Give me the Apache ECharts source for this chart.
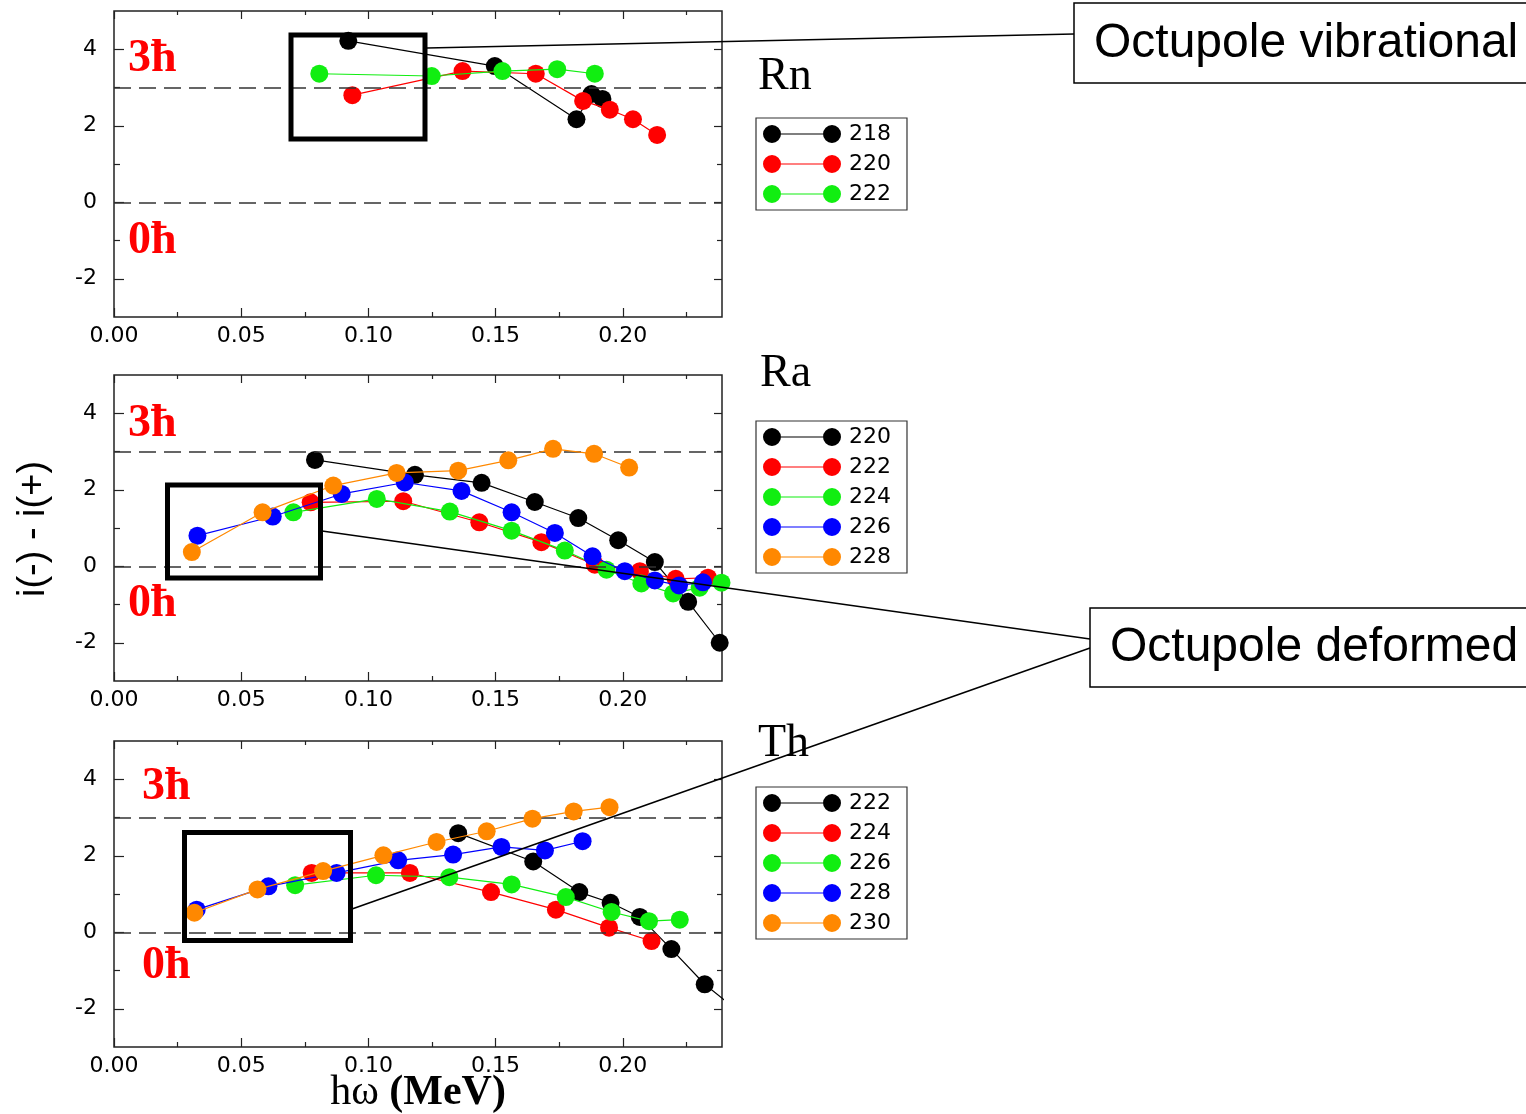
<!DOCTYPE html>
<html><head><meta charset="utf-8">
<script src="https://cdn.jsdelivr.net/npm/echarts@6/dist/echarts.min.js"></script>
<style>html,body{margin:0;padding:0;background:#fff}#c{width:1526px;height:1114px}</style>
</head><body><div id="c"></div>
<script>
// ---- axes / ticks ----
const xRange = [0, 0.239];
const yRange = [-3, 5];
const xMajorTicks = [0, 0.05, 0.10, 0.15, 0.20];
const xMinorTicks = [0.025, 0.075, 0.125, 0.175, 0.225];
const yMajorTicks = [-2, 0, 2, 4];
const yMinorTicks = [-1, 1, 3];
const refLines = [3, 0];

// ---- Rn ----
const rnNames = ['218', '220', '222'];
const rn218 = [[0.0921,4.22],[0.1497,3.56],[0.1818,2.17],[0.1877,2.83],[0.1920,2.70]];
const rn220 = [[0.0937,2.80],[0.1370,3.43],[0.1658,3.36],[0.1844,2.65],[0.1949,2.42],[0.2040,2.17],[0.2135,1.76]];
const rn222 = [[0.0807,3.36],[0.1249,3.30],[0.1527,3.43],[0.1742,3.48],[0.1890,3.36]];

// ---- Ra ----
const raNames = ['220', '222', '224', '226', '228'];
const ra220 = [[0.0790,2.78],[0.1183,2.39],[0.1445,2.18],[0.1654,1.68],[0.1825,1.26],[0.1982,0.68],[0.2126,0.11],[0.2257,-0.93],[0.2381,-2.00]];
const ra222 = [[0.0773,1.67],[0.1137,1.70],[0.1436,1.15],[0.1680,0.63],[0.1890,0.04],[0.2067,-0.13],[0.2208,-0.33],[0.2335,-0.30]];
const ra224 = [[0.0705,1.41],[0.1033,1.76],[0.1320,1.43],[0.1563,0.93],[0.1772,0.41],[0.1936,-0.09],[0.2073,-0.45],[0.2198,-0.71],[0.2302,-0.56],[0.2388,-0.43]];
const ra226 = [[0.0328,0.80],[0.0624,1.30],[0.0895,1.89],[0.1143,2.19],[0.1366,1.97],[0.1563,1.41],[0.1733,0.87],[0.1881,0.26],[0.2008,-0.13],[0.2126,-0.37],[0.2221,-0.50],[0.2315,-0.42]];
const ra228 = [[0.0306,0.37],[0.0584,1.41],[0.0862,2.11],[0.1111,2.44],[0.1353,2.50],[0.1550,2.77],[0.1726,3.07],[0.1887,2.94],[0.2025,2.58]];

// ---- Th ----
const thNames = ['222', '224', '226', '228', '230'];
const th222 = [[0.1353,2.59],[0.1648,1.85],[0.1829,1.05],[0.1952,0.77],[0.2067,0.40],[0.2191,-0.44],[0.2322,-1.36],[0.2460,-2.10]];
const th224 = [[0.0777,1.55],[0.1163,1.55],[0.1482,1.05],[0.1737,0.59],[0.1946,0.12],[0.2113,-0.23]];
const th226 = [[0.0712,1.23],[0.1030,1.49],[0.1318,1.44],[0.1563,1.25],[0.1776,0.92],[0.1956,0.53],[0.2103,0.29],[0.2224,0.33]];
const th228 = [[0.0325,0.59],[0.0607,1.20],[0.0875,1.55],[0.1117,1.88],[0.1333,2.03],[0.1523,2.23],[0.1694,2.14],[0.1842,2.38]];
const th230 = [[0.0316,0.51],[0.0564,1.12],[0.0822,1.60],[0.1059,2.01],[0.1268,2.36],[0.1465,2.64],[0.1645,2.97],[0.1807,3.16],[0.1948,3.27]];

const colors = ['#000000', '#ff0000', '#11ee11', '#0000ff', '#ff8800'];

const panels = [
  { el: 'Rn', names: rnNames, data: [rn218, rn220, rn222] },
  { el: 'Ra', names: raNames, data: [ra220, ra222, ra224, ra226, ra228] },
  { el: 'Th', names: thNames, data: [th222, th224, th226, th228, th230] }
];

const gridTops = [11, 375, 741];
const gridH = 306, gridL = 114, gridW = 608;
const legendTops = [118, 421, 787];
const axisColor = '#222';
const tickFont = { fontFamily: 'DejaVu Sans', fontSize: 22, color: '#000' };

const grids = [], xAxes = [], yAxes = [], series = [], legends = [];

panels.forEach((p, pi) => {
  grids.push({ left: gridL, top: gridTops[pi], width: gridW, height: gridH, show: true,
    borderColor: axisColor, borderWidth: 1.5, backgroundColor: 'transparent' });
  const baseX = { type: 'value', gridIndex: pi, min: xRange[0], max: xRange[1],
    axisLine: { show: false, onZero: false }, splitLine: { show: false } };
  const baseY = { type: 'value', gridIndex: pi, min: yRange[0], max: yRange[1],
    axisLine: { show: false, onZero: false }, splitLine: { show: false } };
  const tl = { color: axisColor, width: 1.2 };
  // x: bottom major (labels), bottom minor, top major, top minor
  xAxes.push(Object.assign({}, baseX, { position: 'bottom',
    axisTick: { inside: true, length: 9, customValues: xMajorTicks, lineStyle: tl },
    axisLabel: Object.assign({ customValues: xMajorTicks, margin: 8, formatter: v => v.toFixed(2) }, tickFont) }));
  xAxes.push(Object.assign({}, baseX, { position: 'bottom',
    axisTick: { inside: true, length: 5, customValues: xMinorTicks, lineStyle: tl },
    axisLabel: { show: false } }));
  xAxes.push(Object.assign({}, baseX, { position: 'top',
    axisTick: { inside: true, length: 8, customValues: xMajorTicks, lineStyle: tl },
    axisLabel: { show: false } }));
  xAxes.push(Object.assign({}, baseX, { position: 'top',
    axisTick: { inside: true, length: 4, customValues: xMinorTicks, lineStyle: tl },
    axisLabel: { show: false } }));
  // y: left major (labels), left minor, right major, right minor
  yAxes.push(Object.assign({}, baseY, { position: 'left',
    axisTick: { inside: true, length: 10, customValues: yMajorTicks, lineStyle: tl },
    axisLabel: Object.assign({ customValues: yMajorTicks, margin: 17, formatter: v => String(v) }, tickFont) }));
  yAxes.push(Object.assign({}, baseY, { position: 'left',
    axisTick: { inside: true, length: 6, customValues: yMinorTicks, lineStyle: tl },
    axisLabel: { show: false } }));
  yAxes.push(Object.assign({}, baseY, { position: 'right',
    axisTick: { inside: true, length: 8, customValues: yMajorTicks, lineStyle: tl },
    axisLabel: { show: false } }));
  yAxes.push(Object.assign({}, baseY, { position: 'right',
    axisTick: { inside: true, length: 5, customValues: yMinorTicks, lineStyle: tl },
    axisLabel: { show: false } }));

  // reference dashed lines
  series.push({ type: 'line', name: p.el + ' ref', xAxisIndex: pi * 4, yAxisIndex: pi * 4, data: [], z: 1,
    silent: true,
    markLine: { silent: true, symbol: ['none', 'none'], label: { show: false },
      lineStyle: { type: [17, 8], color: '#333', width: 1.5 },
      data: refLines.map(v => ({ yAxis: v })) } });

  const legendData = [];
  p.data.forEach((d, si) => {
    const nm = p.el + ' ' + p.names[si];
    legendData.push(nm);
    series.push({
      type: 'line', name: nm, xAxisIndex: pi * 4, yAxisIndex: pi * 4, data: d,
      symbol: 'circle', symbolSize: 18, showSymbol: true, clip: true,
      itemStyle: { color: colors[si] }, lineStyle: { color: colors[si], width: 1.2 },
      emphasis: { disabled: true }, z: 2 + si
    });
  });
  legends.push({
    data: legendData, orient: 'vertical', left: 756, top: legendTops[pi],
    icon: 'path://M0,9A9,9,0,1,1,18,9A9,9,0,1,1,0,9Z M60,9A9,9,0,1,1,78,9A9,9,0,1,1,60,9Z M18,8.4L60,8.4L60,9.6L18,9.6Z',
    itemWidth: 78, itemHeight: 18, itemGap: 8,
    padding: [5, 16, 5, 7], borderColor: '#333', borderWidth: 1.2, backgroundColor: '#fff',
    selectedMode: false,
    formatter: n => n.split(' ')[1],
    textStyle: { fontFamily: 'DejaVu Sans', fontSize: 22, color: '#000', lineHeight: 22, padding: [0, 0, 0, 3] }
  });
});

const hbarFont = 'bold 46px "Liberation Serif"';
const graphics = [];
// hbar labels
[[128, 59, '3ħ'], [128, 241, '0ħ'], [128, 424, '3ħ'], [128, 604, '0ħ'], [142, 787, '3ħ'], [142, 966, '0ħ']]
  .forEach(a => graphics.push({ type: 'text', x: a[0], y: a[1], z: 50,
    style: { text: a[2], font: hbarFont, fill: '#ff0000', align: 'left', verticalAlign: 'middle' } }));
// element titles
[[758, 77, 'Rn'], [760, 374, 'Ra'], [758, 744, 'Th']]
  .forEach(a => graphics.push({ type: 'text', x: a[0], y: a[1], z: 50,
    style: { text: a[2], font: '46px "Liberation Serif"', fill: '#000', align: 'left', verticalAlign: 'middle' } }));
// axis names
graphics.push({ type: 'text', x: 34, y: 529, rotation: Math.PI / 2, z: 50,
  style: { text: 'i(-) - i(+)', font: '38px "Liberation Sans"', fill: '#000', align: 'center', verticalAlign: 'middle' } });
graphics.push({ type: 'text', x: 418, y: 1093, z: 50,
  style: { text: '{a|hω }{b|(MeV)}', align: 'center', verticalAlign: 'middle', fill: '#000',
    rich: { a: { font: '42px "Liberation Serif"', fill: '#000' }, b: { font: 'bold 42px "Liberation Serif"', fill: '#000' } } } });
// highlight rectangles
[[291, 35, 134, 104], [167.5, 485, 153, 93], [184.5, 832.5, 166, 108]]
  .forEach(r => graphics.push({ type: 'rect', z: 100, shape: { x: r[0], y: r[1], width: r[2], height: r[3] },
    style: { fill: 'none', stroke: '#000', lineWidth: 5 } }));
// connector lines
[[427, 48, 1074, 34], [322, 531, 1090, 639], [352, 909, 1090, 648]]
  .forEach(l => graphics.push({ type: 'line', z: 100, shape: { x1: l[0], y1: l[1], x2: l[2], y2: l[3] },
    style: { stroke: '#000', lineWidth: 1.6 } }));
// callout boxes
graphics.push({ type: 'rect', z: 100, shape: { x: 1074, y: 3, width: 470, height: 80 },
  style: { fill: '#fff', stroke: '#000', lineWidth: 1.5 } });
graphics.push({ type: 'text', z: 101, x: 1094, y: 44,
  style: { text: 'Octupole vibrational', font: '48px "Liberation Sans"', fill: '#000', align: 'left', verticalAlign: 'middle' } });
graphics.push({ type: 'rect', z: 100, shape: { x: 1090, y: 608, width: 470, height: 79 },
  style: { fill: '#fff', stroke: '#000', lineWidth: 1.5 } });
graphics.push({ type: 'text', z: 101, x: 1110, y: 648,
  style: { text: 'Octupole deformed', font: '48px "Liberation Sans"', fill: '#000', align: 'left', verticalAlign: 'middle' } });

const chart = echarts.init(document.getElementById('c'), null, { renderer: 'canvas' });
chart.setOption({
  animation: false,
  backgroundColor: '#fff',
  grid: grids, xAxis: xAxes, yAxis: yAxes, series: series, legend: legends,
  graphic: graphics
});
</script></body></html>
